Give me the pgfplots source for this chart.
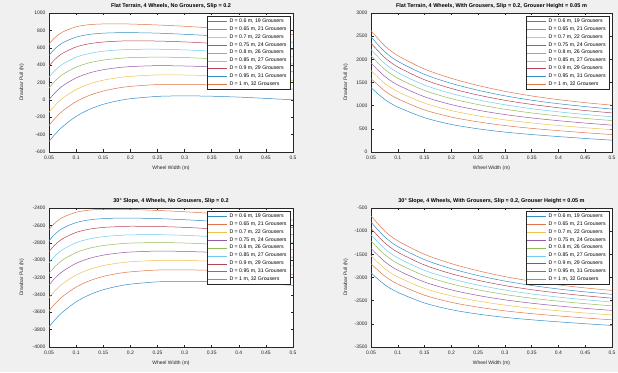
\documentclass[border=0pt]{standalone}
\usepackage{pgfplots}
\pgfplotsset{compat=1.18}
\usepackage{pgfplotstable}
\usepackage{fontspec}
\setmainfont{Liberation Sans}
\definecolor{m1x}{rgb}{0,0.447,0.741}
\definecolor{m2x}{rgb}{0.85,0.325,0.098}
\definecolor{m3x}{rgb}{0.929,0.694,0.125}
\definecolor{m4x}{rgb}{0.494,0.184,0.556}
\definecolor{m5x}{rgb}{0.466,0.674,0.188}
\definecolor{m6x}{rgb}{0.301,0.745,0.933}
\definecolor{m7x}{rgb}{0.635,0.078,0.184}
\colorlet{m1}{m1x!80!white}
\colorlet{m2}{m2x!80!white}
\colorlet{m3}{m3x!80!white}
\colorlet{m4}{m4x!80!white}
\colorlet{m5}{m5x!80!white}
\colorlet{m6}{m6x!80!white}
\colorlet{m7}{m7x!80!white}
\definecolor{figbg}{RGB}{240,240,240}
\definecolor{axc}{rgb}{0.15,0.15,0.15}

\pgfplotstableread{
x d0 d1 d2 d3 d4 d5 d6 d7 d8
0.05 -480 -295 -144 2 136 259 388 511 640
0.06 -404 -220 -70 76 209 332 460 583 711
0.075 -309 -129 18 160 291 410 536 656 781
0.1 -190 -20 119 253 377 491 609 722 841
0.125 -108 53 184 311 428 535 647 754 866
0.15 -51 102 227 347 458 560 666 768 874
0.175 -13 134 253 369 475 573 675 773 875
0.2 13 155 271 383 486 581 680 774 873
0.25 40 176 287 394 492 583 677 768 862
0.3 46 178 286 390 487 575 667 755 847
0.35 42 172 278 380 474 561 651 738 828
0.4 32 160 264 364 457 542 631 716 805
0.45 17 143 246 345 436 520 608 691 779
0.5 0 124 225 323 413 495 581 664 750
}\tA

\pgfplotstableread{
x d0 d1 d2 d3 d4 d5 d6 d7 d8
0.05 1390 1587 1759 1919 2079 2214 2349 2485 2620
0.075 1140 1326 1488 1639 1790 1917 2045 2172 2300
0.1 970 1148 1303 1447 1592 1714 1836 1958 2080
0.15 740 908 1055 1192 1328 1444 1559 1675 1790
0.2 595 754 894 1023 1152 1262 1371 1481 1590
0.25 500 650 781 902 1024 1126 1229 1332 1435
0.3 430 571 694 808 923 1020 1116 1213 1310
0.35 377 510 627 735 843 935 1027 1118 1210
0.4 333 461 572 676 779 867 955 1042 1130
0.45 292 416 524 624 725 810 895 980 1065
0.5 255 376 482 580 678 761 844 927 1010
}\tB

\pgfplotstableread{
x d0 d1 d2 d3 d4 d5 d6 d7 d8
0.05 -3770 -3585 -3434 -3288 -3154 -3031 -2902 -2779 -2650
0.06 -3694 -3510 -3360 -3214 -3081 -2958 -2830 -2707 -2579
0.075 -3599 -3419 -3272 -3130 -2999 -2880 -2754 -2634 -2509
0.1 -3480 -3310 -3171 -3037 -2913 -2799 -2681 -2568 -2449
0.125 -3398 -3237 -3106 -2979 -2862 -2755 -2643 -2536 -2424
0.15 -3341 -3188 -3063 -2943 -2832 -2730 -2624 -2522 -2416
0.175 -3303 -3156 -3037 -2921 -2815 -2717 -2615 -2517 -2415
0.2 -3277 -3135 -3019 -2907 -2804 -2709 -2610 -2516 -2417
0.25 -3250 -3114 -3003 -2896 -2798 -2707 -2613 -2522 -2428
0.3 -3244 -3112 -3004 -2900 -2803 -2715 -2623 -2535 -2443
0.35 -3248 -3118 -3012 -2910 -2816 -2729 -2639 -2552 -2462
0.4 -3258 -3130 -3026 -2926 -2833 -2748 -2659 -2574 -2485
0.45 -3273 -3147 -3044 -2945 -2854 -2770 -2682 -2599 -2511
0.5 -3290 -3166 -3065 -2967 -2877 -2795 -2709 -2626 -2540
}\tC

\pgfplotstableread{
x d0 d1 d2 d3 d4 d5 d6 d7 d8
0.05 -1900 -1703 -1531 -1371 -1211 -1076 -941 -805 -670
0.075 -2150 -1964 -1802 -1651 -1500 -1373 -1245 -1118 -990
0.1 -2320 -2142 -1987 -1843 -1698 -1576 -1454 -1332 -1210
0.15 -2550 -2382 -2235 -2098 -1962 -1846 -1731 -1615 -1500
0.2 -2695 -2536 -2396 -2267 -2138 -2028 -1919 -1809 -1700
0.25 -2790 -2640 -2509 -2388 -2266 -2164 -2061 -1958 -1855
0.3 -2860 -2719 -2596 -2482 -2367 -2270 -2174 -2077 -1980
0.35 -2913 -2780 -2663 -2555 -2447 -2355 -2263 -2172 -2080
0.4 -2957 -2829 -2718 -2614 -2511 -2423 -2335 -2248 -2160
0.45 -2998 -2874 -2766 -2666 -2565 -2480 -2395 -2310 -2225
0.5 -3035 -2914 -2808 -2710 -2612 -2529 -2446 -2363 -2280
}\tD

\pgfplotsset{
  dp/.style={
    scale only axis,
    height=139pt,
    axis background/.style={fill=white},
    xmin=0.05, xmax=0.5,
    xtick={0.05,0.1,0.15,0.2,0.25,0.3,0.35,0.4,0.45,0.5},
    xticklabels={0.05,0.1,0.15,0.2,0.25,0.3,0.35,0.4,0.45,0.5},
    axis line style={draw=axc, line width=0.4pt},
    every tick/.style={draw=axc, line width=0.4pt},
    major tick length=2.5pt,
    tick align=inside,
    ticklabel style={font=\fontsize{5}{6}\selectfont, text=axc},
    /pgf/number format/assume math mode=true,
    /pgf/number format/1000 sep={},
    scaled ticks=false,
    xlabel={Wheel Width (m)}, ylabel={Drawbar Pull (N)},
    label style={font=\fontsize{5}{6}\selectfont, text=axc},
    xlabel style={at={(axis description cs:0.5,-0.115)}, anchor=center},
    every axis title/.style={at={(0.5,1)}, anchor=center, yshift=6.5pt,
      font=\bfseries\fontsize{5.5}{6.5}\selectfont, text=black},
    legend style={at={(rel axis cs:1,1)}, anchor=north east, xshift=-3pt, yshift=-3pt,
      font=\fontsize{5.2}{5.7}\selectfont, draw=axc, line width=0.4pt, fill=white,
      inner sep=1.2pt, row sep=0.4pt, nodes={inner ysep=1.2pt, inner xsep=2pt}},
    legend cell align=left,
    legend image code/.code={\draw[#1, line width=0.5pt] (0pt,0pt) -- (19pt,0pt);},
    cycle list={{m1,line width=0.5pt},{m2,line width=0.5pt},{m3,line width=0.5pt},{m4,line width=0.5pt},{m5,line width=0.5pt},{m6,line width=0.5pt},{m7,line width=0.5pt},{m1,line width=0.5pt},{m2,line width=0.5pt}},
  },
  leftp/.style={dp, width=244pt, ylabel style={at={(axis description cs:-0.111,0.5)}, anchor=center}},
  rightp/.style={dp, width=241pt, ylabel style={at={(axis description cs:-0.104,0.5)}, anchor=center}},
}

\newcommand{\legs}{\legend{{D = 0.6 m, 19 Grousers},{D = 0.65 m, 21 Grousers},{D = 0.7 m, 22 Grousers},{D = 0.75 m, 24 Grousers},{D = 0.8 m, 26 Grousers},{D = 0.85 m, 27 Grousers},{D = 0.9 m, 29 Grousers},{D = 0.95 m, 31 Grousers},{D = 1 m, 32 Grousers}}}

\begin{document}
\begin{tikzpicture}
\useasboundingbox (0,0) rectangle (618pt,372pt);
\fill[figbg] (0,0) rectangle (618pt,372pt);

\begin{axis}[leftp, at={(49pt,220pt)}, anchor=south west,
  ymin=-600, ymax=1000, ytick={-600,-400,...,1000},
  title={Flat Terrain, 4 Wheels, No Grousers, Slip = 0.2}]
\foreach \c in {d0,d1,d2,d3,d4,d5,d6,d7,d8} {\addplot+[no marks, smooth] table[x=x, y=\c] {\tA};}
\legs
\end{axis}

\begin{axis}[rightp, at={(371pt,220pt)}, anchor=south west,
  ymin=0, ymax=3000, ytick={0,500,...,3000},
  title={Flat Terrain, 4 Wheels, With Grousers, Slip = 0.2, Grouser Height = 0.05 m}]
\foreach \c in {d0,d1,d2,d3,d4,d5,d6,d7,d8} {\addplot+[no marks, smooth] table[x=x, y=\c] {\tB};}
\legs
\end{axis}

\begin{axis}[leftp, at={(49pt,25pt)}, anchor=south west,
  ymin=-4000, ymax=-2400, ytick={-4000,-3800,...,-2400},
  title={30° Slope, 4 Wheels, No Grousers, Slip = 0.2}]
\foreach \c in {d0,d1,d2,d3,d4,d5,d6,d7,d8} {\addplot+[no marks, smooth] table[x=x, y=\c] {\tC};}
\legs
\end{axis}

\begin{axis}[rightp, at={(371pt,25pt)}, anchor=south west,
  ymin=-3500, ymax=-500, ytick={-3500,-3000,...,-500},
  title={30° Slope, 4 Wheels, With Grousers, Slip = 0.2, Grouser Height = 0.05 m}]
\foreach \c in {d0,d1,d2,d3,d4,d5,d6,d7,d8} {\addplot+[no marks, smooth] table[x=x, y=\c] {\tD};}
\legs
\end{axis}
\end{tikzpicture}
\end{document}
